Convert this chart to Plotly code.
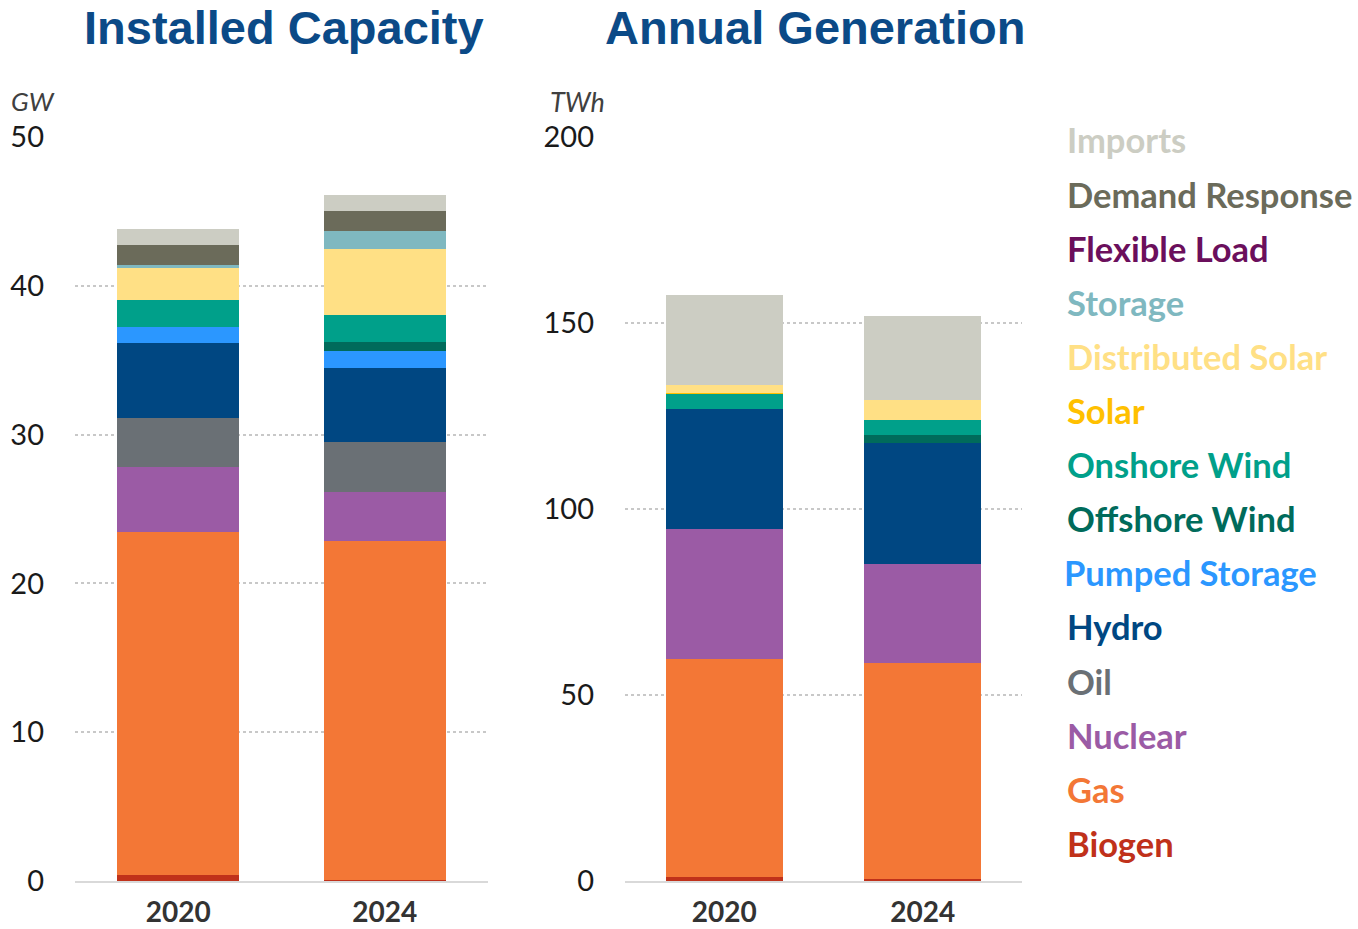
import plotly.graph_objects as go

years = ["2020", "2024"]

# stacking order (bottom -> top)
series_names = ["Biogen", "Gas", "Nuclear", "Oil", "Hydro", "Pumped Storage",
                "Offshore Wind", "Onshore Wind", "Solar", "Distributed Solar",
                "Storage", "Flexible Load", "Demand Response", "Imports"]

series_colors = ["#C0311A", "#F37736", "#9B5BA5", "#6A7075", "#004782", "#2B97FF",
                 "#006B5B", "#00A08A", "#FFC000", "#FFE085",
                 "#7FB8C0", "#6B0F5C", "#6B6B5A", "#CCCDC3"]

# Installed capacity, GW  [2020, 2024]
cap_biogen = [0.4, 0.1]
cap_gas = [23.05, 22.75]
cap_nuclear = [4.39, 3.27]
cap_oil = [3.27, 3.36]
cap_hydro = [5.02, 5.0]
cap_pumped = [1.12, 1.12]
cap_offshore = [0.0, 0.6]
cap_onshore = [1.79, 1.82]
cap_solar = [0.0, 0.0]
cap_distsolar = [2.2, 4.47]
cap_storage = [0.13, 1.21]
cap_flex = [0.0, 0.0]
cap_dr = [1.37, 1.3]
cap_imports = [1.06, 1.12]

# Annual generation, TWh  [2020, 2024]
gen_biogen = [1.2, 0.5]
gen_gas = [58.5, 58.2]
gen_nuclear = [34.8, 26.5]
gen_oil = [0.0, 0.0]
gen_hydro = [32.4, 32.5]
gen_pumped = [0.0, 0.0]
gen_offshore = [0.0, 2.3]
gen_onshore = [4.1, 3.8]
gen_solar = [0.3, 0.0]
gen_distsolar = [2.0, 5.5]
gen_storage = [0.0, 0.0]
gen_flex = [0.0, 0.0]
gen_dr = [0.0, 0.0]
gen_imports = [24.2, 22.6]

cap_values = [cap_biogen, cap_gas, cap_nuclear, cap_oil, cap_hydro, cap_pumped,
              cap_offshore, cap_onshore, cap_solar, cap_distsolar, cap_storage,
              cap_flex, cap_dr, cap_imports]
gen_values = [gen_biogen, gen_gas, gen_nuclear, gen_oil, gen_hydro, gen_pumped,
              gen_offshore, gen_onshore, gen_solar, gen_distsolar, gen_storage,
              gen_flex, gen_dr, gen_imports]

cap_ticks = [0, 10, 20, 30, 40, 50]
gen_ticks = [0, 50, 100, 150, 200]

W, H = 1358, 929

def px(x):
    return x / W

def py(y):
    return 1 - y / H

fig = go.Figure()
for name, color, cv, gv in zip(series_names, series_colors, cap_values, gen_values):
    fig.add_trace(go.Bar(x=years, y=cv, name=name, marker=dict(color=color, line=dict(width=0)),
                         xaxis="x", yaxis="y", showlegend=False))
    fig.add_trace(go.Bar(x=years, y=gv, name=name, marker=dict(color=color, line=dict(width=0)),
                         xaxis="x2", yaxis="y2", showlegend=False))

tick_font = dict(family="Lato", size=29, color="#1a1a1a")
xtick_font = dict(family="Lato", size=28, color="#333333", weight="bold")

common_y = dict(showgrid=True, gridcolor="#C8C8C8", gridwidth=2, griddash="dot",
                zeroline=False, showline=False, ticks="", tickfont=tick_font,
                ticklabelstandoff=30, automargin=False)
common_x = dict(showgrid=False, zeroline=False, showline=True, linecolor="#D9D9D9",
                linewidth=2, ticks="", tickfont=xtick_font, ticklabelstandoff=5,
                automargin=False)

fig.update_layout(
    width=W, height=H,
    margin=dict(l=0, r=0, t=0, b=0, autoexpand=False),
    paper_bgcolor="white", plot_bgcolor="white",
    barmode="stack", bargap=0.41,
    xaxis=dict(domain=[px(75), px(488)], anchor="y", **common_x),
    yaxis=dict(domain=[py(881), py(137)], anchor="x", range=[0, 50],
               tickvals=cap_ticks, **common_y),
    xaxis2=dict(domain=[px(625), px(1022)], anchor="y2", **common_x),
    yaxis2=dict(domain=[py(881), py(137)], anchor="x2", range=[0, 200],
                tickvals=gen_ticks, **common_y),
)

title_font = dict(family="Liberation Sans", size=47, color="#0B4A87", weight="bold")
annotations = [
    dict(text="Installed Capacity", x=px(284), y=py(27), xref="paper", yref="paper",
         showarrow=False, xanchor="center", yanchor="middle", font=title_font),
    dict(text="Annual Generation", x=px(815), y=py(27), xref="paper", yref="paper",
         showarrow=False, xanchor="center", yanchor="middle", font=title_font),
    dict(text="<i>GW</i>", x=px(9), y=py(101), xref="paper", yref="paper",
         showarrow=False, xanchor="left", yanchor="middle",
         font=dict(family="Lato", size=26, color="#404040")),
    dict(text="<i>TWh</i>", x=px(548), y=py(101), xref="paper", yref="paper",
         showarrow=False, xanchor="left", yanchor="middle",
         font=dict(family="Lato", size=27, color="#404040")),
]

legend_y0 = 140
legend_step = 54.1
for i, (name, color) in enumerate(zip(reversed(series_names), reversed(series_colors))):
    xoff = 1062 if name == "Pumped Storage" else 1065
    annotations.append(dict(
        text="<b>" + name + "</b>", x=px(xoff), y=py(legend_y0 + i * legend_step),
        xref="paper", yref="paper", showarrow=False, xanchor="left", yanchor="middle",
        font=dict(family="Lato", size=34.5, color=color)))

fig.update_layout(annotations=annotations)

fig.write_html("out.html", config={"displayModeBar": False},
               post_script="document.body.style.margin='0px';")
